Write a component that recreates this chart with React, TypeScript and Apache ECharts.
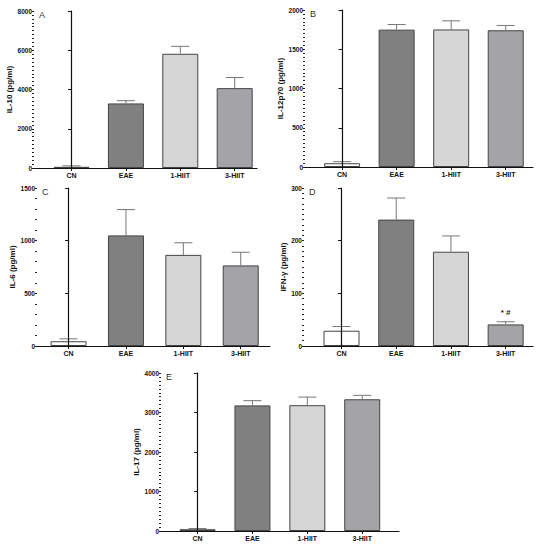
import React, { useEffect, useRef } from "react";
import * as echarts from "echarts";

const categories = ["CN", "EAE", "1-HIIT", "3-HIIT"];
const barColors = ["#ffffff", "#808080", "#d6d6d6", "#a3a3a8"];

const il10Mean = [60, 3290, 5820, 4070];
const il10Err = [110, 3430, 6200, 4610];
const il12Mean = [48, 1750, 1752, 1742];
const il12Err = [68, 1815, 1862, 1803];
const il6Mean = [45, 1050, 865, 765];
const il6Err = [68, 1295, 980, 890];
const ifnMean = [29, 240, 179, 41];
const ifnErr = [37, 281, 209, 46];
const il17Mean = [45, 3180, 3185, 3335];
const il17Err = [62, 3300, 3390, 3435];

const means = [il10Mean, il12Mean, il6Mean, ifnMean, il17Mean];
const errs = [il10Err, il12Err, il6Err, ifnErr, il17Err];
const yNames = ["IL-10 (pg/ml)", "IL-12p70 (pg/ml)", "IL-6 (pg/ml)", "IFN-γ (pg/ml)", "IL-17 (pg/ml)"];
const panelLetters = ["A", "B", "C", "D", "E"];
const yMax = [8000, 2000, 1500, 300, 4000];
const yInterval = [2000, 500, 500, 100, 1000];
const yMinorInterval = [200, 50, 100, 10, 100];
const ifnAnnotations = ["", "", "", "* #"];

// layout (pixels / axis extents), not data
const layout = [
  { left: 34, top: 11, width: 223, height: 157, xMin: -0.69, xMax: 3.41, gap: 15 },
  { left: 305, top: 10, width: 228, height: 157, xMin: -0.68, xMax: 3.5, gap: 18 },
  { left: 37, top: 188, width: 233, height: 158, xMin: -0.55, xMax: 3.51, gap: 17 },
  { left: 304, top: 188, width: 229, height: 158, xMin: -0.686, xMax: 3.5, gap: 17 },
  { left: 161, top: 373, width: 238, height: 158, xMin: -0.666, xMax: 3.67, gap: 17 },
];

const FONT = "Liberation Sans, Arial, sans-serif";

export default function App() {
  const ref = useRef<HTMLDivElement>(null);
  useEffect(() => {
    if (!ref.current) return;
    const chart = echarts.init(ref.current, null, { renderer: "svg" });
    const idx = [0, 1, 2, 3];
    const grid = layout.map((l) => ({ left: l.left, top: l.top, width: l.width, height: l.height, containLabel: false }));
    const xAxis = layout.map((l, g) => ({
      type: "value",
      gridIndex: g,
      min: l.xMin,
      max: l.xMax,
      splitLine: { show: false },
      axisLine: { show: true, lineStyle: { color: "#111", width: 1.2 } },
      axisTick: { show: true, customValues: idx, length: 3, lineStyle: { color: "#111", width: 1 } },
      axisLabel: {
        customValues: idx,
        formatter: (v: number) => categories[Math.round(v)] ?? "",
        fontSize: 7,
        fontWeight: "bold",
        fontFamily: FONT,
        color: "#111",
        margin: 4,
      },
    }));
    const yMajor = layout.map((l, g) => ({
      type: "value",
      gridIndex: g,
      position: "left",
      min: 0,
      max: yMax[g],
      interval: yInterval[g],
      name: yNames[g],
      nameLocation: "middle",
      nameGap: l.gap,
      nameTextStyle: { fontSize: 8, fontWeight: "bold", fontFamily: FONT, color: "#111" },
      splitLine: { show: false },
      axisLine: { show: true, lineStyle: { color: "#111", width: 1.2 } },
      axisTick: { show: true, length: 3.5, lineStyle: { color: "#111", width: 1 } },
      axisLabel: {
        fontSize: 6.5,
        fontWeight: "bold",
        fontFamily: FONT,
        color: "#111",
        margin: 2,
        formatter: (v: number) => String(v),
      },
      z: 3,
    }));
    const yMinor = layout.map((l, g) => ({
      type: "value",
      gridIndex: g,
      position: "left",
      offset: 0,
      min: 0,
      max: yMax[g],
      interval: yMinorInterval[g],
      splitLine: { show: false },
      axisLine: { show: false },
      axisTick: { show: true, length: 2, lineStyle: { color: "#222", width: 1 } },
      axisLabel: { show: false },
      z: 2,
    }));
    const series: any[] = [];
    means.forEach((m, g) => {
      series.push({
        type: "bar",
        xAxisIndex: g,
        yAxisIndex: g,
        barWidth: 36,
        data: m.map((v, i) => ({
          value: [i, v],
          itemStyle: { color: barColors[i], borderColor: "#444", borderWidth: 1 },
        })),
        z: 2,
      });
      series.push({
        type: "custom",
        xAxisIndex: g,
        yAxisIndex: g,
        z: 3,
        data: errs[g].map((e, i) => [i, e, m[i]]),
        renderItem: (params: any, api: any) => {
          const i = api.value(0);
          const top = api.value(1);
          const mean = api.value(2);
          const p0 = api.coord([i, mean]);
          const p1 = api.coord([i, top]);
          const children: any[] = [
            { type: "line", shape: { x1: p0[0], y1: p0[1], x2: p1[0], y2: p1[1] }, style: { stroke: "#777", lineWidth: 1 } },
            { type: "line", shape: { x1: p1[0] - 9, y1: p1[1], x2: p1[0] + 9, y2: p1[1] }, style: { stroke: "#777", lineWidth: 1 } },
          ];
          if (g === 3 && ifnAnnotations[params.dataIndex]) {
            children.push({
              type: "text",
              style: {
                text: ifnAnnotations[params.dataIndex],
                x: p1[0],
                y: p1[1] - 9,
                align: "center",
                verticalAlign: "middle",
                fontSize: 8,
                fontWeight: "bold",
                fontFamily: FONT,
                fill: "#222",
              },
            });
          }
          return { type: "group", children };
        },
      });
    });
    const title = layout.map((l, g) => ({
      text: panelLetters[g],
      left: l.left + 5,
      top: l.top - 1,
      padding: 0,
      textStyle: { fontSize: 9, fontWeight: "normal", fontFamily: FONT, color: "#333" },
    }));
    chart.setOption({
      animation: false,
      backgroundColor: "#fff",
      title,
      grid,
      xAxis,
      yAxis: [...yMajor, ...yMinor],
      series,
    });
    return () => chart.dispose();
  }, []);
  return <div ref={ref} style={{ position: "absolute", left: 0, top: 0, width: 550, height: 547 }} />;
}
